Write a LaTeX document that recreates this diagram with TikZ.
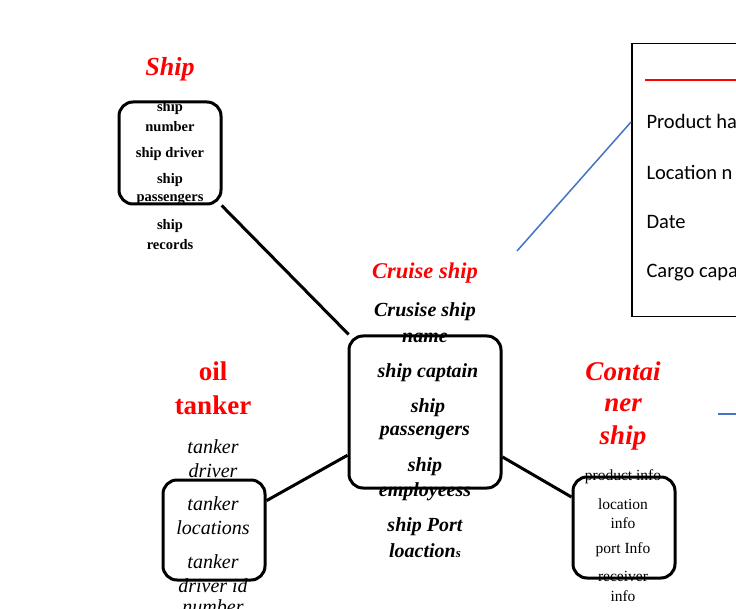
\documentclass[tikz,border=0pt]{standalone}
\usepackage{fontspec}
\setmainfont{Liberation Serif}
\newfontfamily\calib{Carlito}
\begin{document}
\begin{tikzpicture}[x=1pt,y=-1pt,
  box/.style={draw,line width=3pt,rounded corners=14pt,inner sep=0pt},
  title/.style={text=red,font=\fontsize{26}{28}\selectfont\bfseries\itshape},
  sb/.style={font=\fontsize{14.5}{16}\selectfont\bfseries},
  cr/.style={font=\fontsize{20}{22}\selectfont\bfseries\itshape},
  tk/.style={font=\fontsize{20}{22}\selectfont\itshape},
  ct/.style={font=\fontsize{15.5}{17}\selectfont},
  lg/.style={font=\fontsize{20.5}{24}\selectfont\calib,anchor=west}]
\useasboundingbox (0,0) rectangle (736,609);
\clip (0,0) rectangle (736,609);
% boxes
\node[box,minimum width=102pt,minimum height=102pt] (ship) at (170,153) {};
\node[box,minimum width=152pt,minimum height=152pt] (cruise) at (425,412) {};
\node[box,minimum width=102pt,minimum height=100pt] (oil) at (214,530) {};
\node[box,minimum width=102pt,minimum height=101pt] (cont) at (624,527.5) {};
\draw[line width=3pt] (ship) -- (cruise);
\draw[line width=3pt] (oil) -- (cruise);
\draw[line width=3pt] (cruise) -- (cont);
% legend
\node[draw,line width=1.5pt,minimum width=160pt,minimum height=273pt,anchor=north west] (leg) at (631,43) {};
\draw[red,line width=2.5pt] (645,80) -- (740,80);
\node[lg] (l1) at (643,121) {Product ha};
\node[lg] (l2) at (643,172) {Location n};
\node[lg] (l3) at (643,222) {Date};
\node[lg] (l4) at (643,273) {Cargo capa};
\coordinate (b1) at (517,251);
\draw[color={rgb,255:red,68;green,114;blue,196},line width=1.5pt] (b1) -- (leg.west |- 0,122);
\coordinate (b2) at (718,414);
\coordinate (b3) at (740,414);
\draw[color={rgb,255:red,68;green,114;blue,196},line width=1.5pt] (b2) -- (b3);
% Ship
\node[title] (tship) at (170,69) {Ship};
\node[sb] (s1) at (170,108) {ship};
\node[sb] (s2) at (170,127) {number};
\node[sb] (s3) at (170,154) {ship driver};
\node[sb] (s4) at (170,180) {ship};
\node[sb] (s5) at (170,199) {passengers};
\node[sb] (s6) at (170,226) {ship};
\node[sb] (s7) at (170,245) {records};
% Cruise
\node[title,font=\fontsize{22.5}{26}\selectfont\bfseries\itshape] (tcr) at (425,273) {Cruise ship};
\node[cr] (c1) at (425,312) {Crusise ship};
\node[cr] (c2) at (425,338) {name};
\node[cr] (c3) at (428,373) {ship captain};
\node[cr] (c4) at (428,408) {ship};
\node[cr] (c5) at (425,433) {passengers};
\node[cr] (c6) at (425,467) {ship};
\node[cr] (c7) at (425,492) {employeess};
\node[cr] (c8) at (425,527) {ship Port};
\node[cr] (c9) at (425,551) {loaction{\fontsize{13}{15}\selectfont s}};
% oil
\node[title,font=\fontsize{27}{30}\selectfont\bfseries] (to1) at (213,371) {oil};
\node[title,font=\fontsize{27}{30}\selectfont\bfseries] (to2) at (213,405) {tanker};
\node[tk] (o1) at (213,447) {tanker};
\node[tk] (o2) at (213,471) {driver};
\node[tk] (o3) at (213,504) {tanker};
\node[tk] (o4) at (213,528) {locations};
\node[tk] (o5) at (213,562) {tanker};
\node[tk] (o6) at (213,586) {driver id};
\node[tk] (o7) at (213,607) {number};
% container
\node[title,font=\fontsize{27}{30}\selectfont\bfseries\itshape] (tc1) at (623,371) {Contai};
\node[title,font=\fontsize{27}{30}\selectfont\bfseries\itshape] (tc2) at (623,405) {ner};
\node[title,font=\fontsize{27}{30}\selectfont\bfseries\itshape] (tc3) at (623,438) {ship};
\node[ct] (k1) at (623,477) {product info};
\node[ct] (k2) at (623,504) {location};
\node[ct] (k3) at (623,523) {info};
\node[ct] (k4) at (623,550) {port Info};
\node[ct] (k5) at (623,576) {receiver};
\node[ct] (k6) at (623,596) {info};
\end{tikzpicture}
\end{document}
